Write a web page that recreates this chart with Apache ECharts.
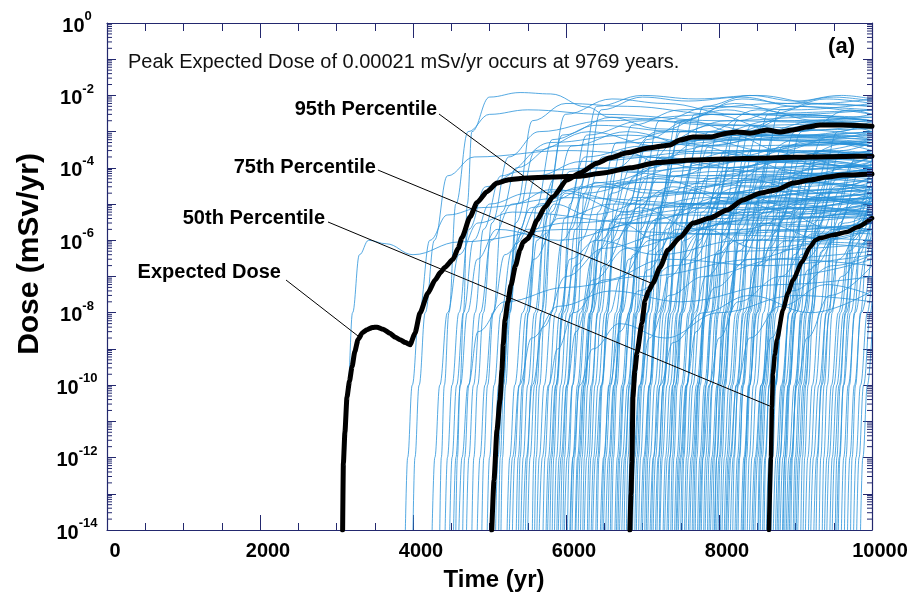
<!DOCTYPE html>
<html>
<head>
<meta charset="utf-8">
<script src="https://cdn.jsdelivr.net/npm/echarts@6/dist/echarts.min.js"></script>
<style>
html,body{margin:0;padding:0;background:#fff;}
#chart{width:915px;height:602px;}
</style>
</head>
<body>
<div id="chart"></div>
<script>
// Dose histories [time (yr), dose (mSv/yr)]
const expectedDose = [[3080,1e-14],[3090,7e-13],[3110,5e-12],[3137,4.7e-11],[3170,1.3e-10],[3203,3.2e-10],[3240,8.5e-10],[3281,1.8e-9],[3340,2.8e-9],[3399,3.4e-9],[3470,3.9e-9],[3530,4.0e-9],[3610,3.5e-9],[3699,2.7e-9],[3770,2.1e-9],[3830,1.8e-9],[3900,1.5e-9],[3961,1.3e-9],[4026,2.7e-9],[4091,9.8e-9],[4196,3.5e-8],[4288,8e-8],[4360,1.3e-7],[4418,1.8e-7],[4523,3.0e-7],[4590,6e-7],[4641,1.2e-6],[4745,4.4e-6],[4837,1.1e-5],[4967,2.2e-5],[5098,3.8e-5],[5250,4.7e-5],[5438,5.2e-5],[5830,5.6e-5],[6183,5.9e-5],[6484,7.2e-5],[6837,1.0e-4],[7190,1.4e-4],[7660,1.65e-4],[8105,1.75e-4],[8536,1.85e-4],[8967,1.95e-4],[9412,2.03e-4],[9769,2.1e-4],[10000,2.08e-4]];
const percentile95 = [[5030,1e-14],[5059,2.4e-13],[5098,5.8e-12],[5137,3.9e-11],[5163,2.6e-10],[5180,1.4e-9],[5203,6.3e-9],[5240,2.0e-8],[5281,5.8e-8],[5340,2.0e-7],[5398,5.4e-7],[5440,9e-7],[5500,1.1e-6],[5540,1.5e-6],[5621,3.6e-6],[5725,8.3e-6],[5830,1.6e-5],[6013,4.6e-5],[6183,7.2e-5],[6405,1.35e-4],[6575,1.9e-4],[6797,2.6e-4],[7059,3.5e-4],[7359,4.3e-4],[7490,5.9e-4],[7660,7.1e-4],[7882,7.1e-4],[8105,9.1e-4],[8235,9.8e-4],[8405,9.1e-4],[8627,1.11e-3],[8797,9.8e-4],[8967,1.11e-3],[9150,1.35e-3],[9320,1.52e-3],[9621,1.52e-3],[10000,1.4e-3]];
const percentile75 = [[6836,1e-14],[6850,1e-13],[6862,7e-13],[6875,4.7e-11],[6900,2.5e-10],[6928,7.8e-10],[6993,5.2e-9],[7033,2.2e-8],[7080,4e-8],[7137,6.6e-8],[7229,1.8e-7],[7333,5.4e-7],[7490,1.2e-6],[7660,3.0e-6],[7882,4.1e-6],[8105,6.9e-6],[8314,1.3e-5],[8536,2.0e-5],[8758,2.5e-5],[8967,3.8e-5],[9189,4.6e-5],[9412,5.6e-5],[9621,6.3e-5],[10000,6.8e-5]];
const percentile50 = [[8653,1e-14],[8679,1.0e-12],[8692,2.5e-11],[8705,2.1e-10],[8730,7e-10],[8758,1.8e-9],[8836,1.2e-8],[8902,3.5e-8],[8967,8.0e-8],[9085,2.5e-7],[9189,6.5e-7],[9260,1.0e-6],[9320,1.15e-6],[9490,1.4e-6],[9673,1.7e-6],[9804,2.3e-6],[10000,4.1e-6]];

// Individual realizations, grouped by release time
const realizationsEarly = [
  [[3090,1e-14],[3110,1e-12],[3150,1e-10],[3210,1e-8],[3300,4e-7],[3420,1e-6],[3650,8e-7],[4000,4e-7],[4600,9e-7],[6000,2e-6],[8000,1.5e-6],[10000,3e-6]],
  [[3900,1e-14],[3930,1e-12],[3990,1e-10],[4080,1e-8],[4220,1e-6],[4450,5e-6],[4900,8e-6],[6000,1.5e-5],[8000,1e-5],[10000,2e-5]],
  [[4000,1e-14],[4025,1e-12],[4080,1e-10],[4160,1e-8],[4280,1e-6],[4450,6e-5],[4800,2e-4],[6000,3e-4],[8000,1.5e-4],[10000,2e-4]],
  [[4250,1e-14],[4285,1e-12],[4350,1e-10],[4450,1e-8],[4600,4e-7],[4850,3e-6],[5300,6e-6],[7000,3e-6],[10000,5e-6]],
  [[4350,1e-14],[4370,1e-12],[4410,1e-10],[4470,1e-8],[4560,1e-5],[4720,1e-3],[5000,3e-3],[5500,4e-3],[6500,3e-3],[8000,2e-3],[10000,1.5e-3]],
  [[4420,1e-14],[4450,1e-12],[4510,1e-10],[4600,1e-8],[4730,2e-6],[4950,3e-5],[5400,8e-5],[6500,1e-4],[8500,2e-4],[10000,1e-4]],
  [[4480,1e-14],[4510,1e-12],[4570,1e-10],[4660,1e-8],[4790,1e-6],[5000,1e-5],[5500,2e-5],[7000,4e-5],[10000,6e-5]],
  [[4530,1e-14],[4560,1e-12],[4620,1e-10],[4710,1e-8],[4840,3e-7],[5100,2e-6],[5900,1e-6],[7000,3e-6],[10000,2e-6]],
  [[4560,1e-14],[4580,1e-12],[4615,1e-10],[4660,1e-8],[4710,1e-5],[4770,1e-3],[5000,9e-3],[5400,1.2e-2],[5800,1.1e-2],[6270,4.8e-3],[6575,2.5e-3],[7200,1.2e-3],[8500,6e-4],[10000,4e-4]],
  [[4600,1e-14],[4640,1e-12],[4720,1e-10],[4850,3e-9],[5200,2e-8],[6000,5e-8],[7000,1e-7],[8500,3e-7],[10000,5e-7]],
  [[4650,1e-14],[4675,1e-12],[4730,1e-10],[4810,1e-8],[4920,2e-6],[5150,6e-5],[5800,5e-4],[6800,8e-4],[8000,4e-4],[10000,5e-4]],
  [[4700,1e-14],[4730,1e-12],[4790,1e-10],[4880,1e-8],[5020,1e-6],[5300,1e-5],[5800,2.5e-5],[7000,1e-5],[10000,1.5e-5]],
  [[4770,1e-14],[4795,1e-12],[4845,1e-10],[4920,1e-8],[5030,3e-6],[5250,2e-4],[5650,1e-3],[6500,2e-3],[8000,3e-3],[10000,2.5e-3]],
  [[4840,1e-14],[4875,1e-12],[4940,1e-10],[5040,1e-8],[5200,4e-7],[5500,2e-6],[6000,3e-6],[8000,8e-6],[10000,6e-6]],
  [[4900,1e-14],[4925,1e-12],[4975,1e-10],[5050,1e-8],[5160,6e-6],[5350,1e-4],[5850,4e-4],[7000,5e-4],[9000,8e-4],[10000,7e-4]],
  [[4970,1e-14],[5000,1e-12],[5060,1e-10],[5150,1e-8],[5290,5e-7],[5550,8e-6],[6200,3e-5],[8000,2e-5],[10000,3e-5]]
];
const realizations5k = [
  [[5030,1e-14],[5060,1e-12],[5120,1e-10],[5210,1e-8],[5340,8e-7],[5650,1e-5],[6500,4e-5],[7500,1.5e-4],[8500,8e-5],[10000,1.2e-4]],
  [[5080,1e-14],[5110,1e-12],[5170,1e-10],[5260,1e-8],[5390,2e-6],[5620,6e-5],[6200,1.5e-4],[8000,3e-4],[10000,2e-4]],
  [[5120,1e-14],[5140,1e-12],[5185,1e-10],[5250,1e-8],[5340,3e-6],[5600,3e-4],[6300,1e-3],[7200,4e-4],[8200,8e-4],[10000,6e-4]],
  [[5150,1e-14],[5170,1e-12],[5210,1e-10],[5270,1e-8],[5360,1e-5],[5560,2e-3],[6000,6e-3],[6800,5e-3],[8000,3e-3],[10000,4e-3]],
  [[5230,1e-14],[5265,1e-12],[5330,1e-10],[5430,1e-8],[5580,3e-7],[5900,4e-6],[6600,1e-5],[8500,7e-6],[10000,1.2e-5]],
  [[5260,1e-14],[5300,1e-12],[5390,1e-10],[5550,2e-9],[5900,1.5e-8],[6600,4e-8],[7500,2e-8],[8800,6e-8],[10000,1e-7]],
  [[5300,1e-14],[5330,1e-12],[5390,1e-10],[5480,1e-8],[5610,2e-6],[5850,5e-5],[6500,8e-5],[8000,5e-5],[10000,9e-5]],
  [[5350,1e-14],[5375,1e-12],[5430,1e-10],[5510,1e-8],[5620,1e-6],[5850,1e-5],[6300,5e-6],[7400,2e-5],[10000,1e-5]],
  [[5380,1e-14],[5400,1e-12],[5445,1e-10],[5510,1e-8],[5610,8e-6],[5820,6e-4],[6400,1.5e-3],[7500,1e-3],[10000,1.2e-3]],
  [[5410,1e-14],[5440,1e-12],[5500,1e-10],[5590,1e-8],[5720,1.5e-6],[6000,2e-5],[6800,6e-6],[7800,1.5e-5],[10000,2.5e-5]],
  [[5440,1e-14],[5480,1e-12],[5560,1e-10],[5700,4e-9],[6000,1e-7],[6500,6e-7],[7300,1.5e-6],[10000,1e-6]],
  [[5470,1e-14],[5495,1e-12],[5545,1e-10],[5620,1e-8],[5730,5e-6],[5950,8e-4],[6600,2.5e-3],[8000,1.5e-3],[10000,8e-4]],
  [[5500,1e-14],[5530,1e-12],[5590,1e-10],[5680,1e-8],[5810,3e-6],[6050,8e-5],[6800,2e-4],[8500,1.5e-4],[10000,2.5e-4]],
  [[5560,1e-14],[5580,1e-12],[5620,1e-10],[5680,1e-8],[5770,2e-5],[5990,3e-3],[6600,8e-3],[7300,6e-3],[8200,3e-3],[10000,2e-3]],
  [[5590,1e-14],[5610,1e-12],[5655,1e-10],[5720,1e-8],[5810,6e-6],[6070,4e-4],[6800,1e-3],[7700,4e-4],[8800,7e-4],[10000,5e-4]],
  [[5620,1e-14],[5650,1e-12],[5715,1e-10],[5810,1e-8],[5950,1e-6],[6250,2e-5],[7000,4e-5],[9000,3e-5],[10000,5e-5]],
  [[5650,1e-14],[5690,1e-12],[5770,1e-10],[5890,1e-9],[6100,1e-8],[6500,8e-8],[7300,3e-7],[8600,2e-7],[10000,4e-7]],
  [[5700,1e-14],[5725,1e-12],[5780,1e-10],[5860,1e-8],[5980,4e-6],[6250,2e-4],[7000,4e-4],[8500,6e-4],[10000,5e-4]],
  [[5740,1e-14],[5770,1e-12],[5830,1e-10],[5920,1e-8],[6050,3e-7],[6400,1e-6],[7200,4e-7],[8300,1e-6],[10000,8e-7]],
  [[5760,1e-14],[5795,1e-12],[5865,1e-10],[5970,1e-8],[6120,2e-7],[6450,2e-6],[7200,5e-6],[10000,4e-6]],
  [[5790,1e-14],[5815,1e-12],[5870,1e-10],[5950,1e-8],[6060,2e-6],[6300,1e-4],[7000,8e-5],[8200,1.5e-4],[10000,1e-4]],
  [[5820,1e-14],[5840,1e-12],[5885,1e-10],[5950,1e-8],[6050,1e-5],[6270,8e-4],[7000,2e-3],[8500,1.5e-3],[10000,2e-3]],
  [[5850,1e-14],[5875,1e-12],[5930,1e-10],[6010,1e-8],[6120,2e-6],[6380,4e-5],[7100,2e-5],[8200,6e-5],[10000,4e-5]],
  [[5880,1e-14],[5910,1e-12],[5970,1e-10],[6060,1e-8],[6190,1e-6],[6470,3e-5],[7300,6e-5],[10000,8e-5]],
  [[5900,1e-14],[5935,1e-12],[6010,1e-10],[6130,3e-9],[6350,8e-8],[6800,6e-7],[7800,2e-6],[10000,1.5e-6]],
  [[5930,1e-14],[5955,1e-12],[6010,1e-10],[6090,1e-8],[6210,5e-6],[6480,2e-4],[7200,3e-4],[9000,2e-4],[10000,3e-4]],
  [[5960,1e-14],[5980,1e-12],[6025,1e-10],[6090,1e-8],[6180,3e-5],[6400,5e-3],[7000,1e-2],[7700,8e-3],[8500,1e-2],[9300,6e-3],[10000,8e-3]],
  [[5980,1e-14],[6015,1e-12],[6085,1e-10],[6190,1e-8],[6340,3e-7],[6700,5e-6],[7600,1e-5],[10000,1.5e-5]]
];
const realizations6k = [
  [[6020,1e-14],[6040,1e-12],[6085,1e-10],[6150,1e-8],[6240,2e-5],[6460,4e-3],[7000,9e-3],[7600,7e-3],[8300,9e-3],[9000,5e-3],[10000,3e-3]],
  [[6050,1e-14],[6090,1e-12],[6180,1e-10],[6350,1e-9],[6700,5e-9],[7300,2e-9],[8000,1e-8],[9000,3e-8],[10000,2e-8]],
  [[6060,1e-14],[6090,1e-12],[6150,1e-10],[6240,1e-8],[6370,1e-6],[6600,2e-5],[7100,1e-4],[7800,6e-4],[8600,3e-4],[9400,5e-4],[10000,3e-4]],
  [[6080,1e-14],[6110,1e-12],[6170,1e-10],[6260,1e-8],[6390,1e-6],[6680,4e-5],[7500,1e-4],[10000,1.2e-4]],
  [[6120,1e-14],[6150,1e-12],[6215,1e-10],[6310,1e-8],[6450,6e-7],[6750,6e-6],[7400,3e-5],[8300,1e-5],[9200,4e-5],[10000,2e-5]],
  [[6130,1e-14],[6165,1e-12],[6235,1e-10],[6340,1e-8],[6490,2e-7],[6850,3e-6],[7800,6e-6],[10000,5e-6]],
  [[6160,1e-14],[6185,1e-12],[6240,1e-10],[6320,1e-8],[6440,1e-6],[6700,3e-6],[7200,1e-6],[8000,4e-6],[10000,8e-6]],
  [[6190,1e-14],[6210,1e-12],[6255,1e-10],[6320,1e-8],[6420,6e-6],[6660,5e-4],[7400,1e-3],[9000,8e-4],[10000,1e-3]],
  [[6220,1e-14],[6240,1e-12],[6285,1e-10],[6350,1e-8],[6440,2e-6],[6650,1e-4],[7200,1e-3],[7900,3e-3],[8800,1e-3],[10000,1.5e-3]],
  [[6240,1e-14],[6270,1e-12],[6330,1e-10],[6420,1e-8],[6550,8e-7],[6870,1.5e-5],[7800,2e-5],[10000,3e-5]],
  [[6280,1e-14],[6300,1e-12],[6345,1e-10],[6410,1e-8],[6500,4e-6],[6730,3e-4],[7300,1.2e-4],[8300,3e-4],[10000,2e-4]],
  [[6300,1e-14],[6325,1e-12],[6380,1e-10],[6460,1e-8],[6580,3e-6],[6850,1e-4],[7600,2.5e-4],[9000,3e-4],[10000,2e-4]],
  [[6330,1e-14],[6360,1e-12],[6420,1e-10],[6510,1e-8],[6640,1e-6],[6950,8e-6],[7700,2e-6],[8500,8e-6],[10000,5e-6]],
  [[6350,1e-14],[6385,1e-12],[6460,1e-10],[6570,1e-8],[6720,1e-7],[7100,1e-6],[8200,3e-6],[10000,2e-6]],
  [[6390,1e-14],[6415,1e-12],[6465,1e-10],[6540,1e-8],[6650,4e-6],[6900,6e-5],[7500,6e-4],[8400,8e-4],[9300,2e-3],[10000,1e-3]],
  [[6410,1e-14],[6430,1e-12],[6475,1e-10],[6540,1e-8],[6630,1e-5],[6860,1.5e-3],[7500,4e-3],[8800,6e-3],[10000,5e-3]],
  [[6450,1e-14],[6490,1e-12],[6570,1e-10],[6700,3e-9],[6950,4e-8],[7400,2e-7],[8200,5e-7],[10000,8e-7]],
  [[6470,1e-14],[6500,1e-12],[6560,1e-10],[6650,1e-8],[6780,2e-6],[7050,5e-5],[8000,8e-5],[10000,6e-5]],
  [[6490,1e-14],[6520,1e-12],[6585,1e-10],[6680,1e-8],[6820,3e-7],[7200,4e-6],[8000,1.5e-5],[9000,6e-6],[10000,1e-5]],
  [[6520,1e-14],[6555,1e-12],[6625,1e-10],[6730,1e-8],[6880,4e-7],[7200,8e-6],[8300,1.2e-5],[10000,2e-5]],
  [[6550,1e-14],[6575,1e-12],[6630,1e-10],[6710,1e-8],[6820,3e-6],[7080,2e-4],[7700,1e-4],[8600,2e-4],[10000,1.5e-4]],
  [[6580,1e-14],[6600,1e-12],[6645,1e-10],[6710,1e-8],[6800,8e-6],[7060,4e-4],[7800,6e-4],[10000,8e-4]],
  [[6600,1e-14],[6620,1e-12],[6665,1e-10],[6730,1e-8],[6820,1e-5],[7050,6e-4],[7600,2e-3],[8200,1e-3],[9000,3e-3],[10000,2e-3]],
  [[6640,1e-14],[6670,1e-12],[6730,1e-10],[6820,1e-8],[6950,1e-6],[7250,2e-5],[8400,4e-5],[10000,3e-5]],
  [[6660,1e-14],[6690,1e-12],[6750,1e-10],[6840,1e-8],[6970,2e-6],[7250,2e-4],[8000,1e-4],[9000,1.5e-4],[10000,8e-5]],
  [[6680,1e-14],[6705,1e-12],[6760,1e-10],[6840,1e-8],[6950,5e-6],[7200,5e-5],[8000,2e-5],[9200,4e-5],[10000,3e-5]],
  [[6700,1e-14],[6735,1e-12],[6805,1e-10],[6910,1e-8],[7060,1.5e-7],[7450,2e-6],[8600,4e-6],[10000,6e-6]],
  [[6730,1e-14],[6765,1e-12],[6835,1e-10],[6940,1e-8],[7090,5e-7],[7450,5e-6],[8300,3e-5],[9400,1.5e-5],[10000,2e-5]],
  [[6760,1e-14],[6780,1e-12],[6825,1e-10],[6890,1e-8],[6980,1.5e-5],[7220,2e-3],[7900,5e-3],[9000,4e-3],[10000,6e-3]],
  [[6790,1e-14],[6810,1e-12],[6855,1e-10],[6920,1e-8],[7010,8e-6],[7270,5e-4],[7900,1.5e-3],[8700,7e-4],[10000,1e-3]],
  [[6810,1e-14],[6840,1e-12],[6900,1e-10],[6990,1e-8],[7120,2e-6],[7400,8e-5],[8300,1.5e-4],[10000,1e-4]],
  [[6840,1e-14],[6880,1e-12],[6960,1e-10],[7090,2e-9],[7350,3e-8],[7800,1e-7],[8800,3e-7],[10000,2e-7]],
  [[6870,1e-14],[6900,1e-12],[6965,1e-10],[7060,1e-8],[7200,5e-7],[7520,1e-5],[8500,1.5e-5],[10000,1e-5]],
  [[6900,1e-14],[6925,1e-12],[6980,1e-10],[7060,1e-8],[7170,3e-6],[7450,6e-5],[8200,2e-4],[9200,6e-5],[10000,1e-4]],
  [[6920,1e-14],[6945,1e-12],[6995,1e-10],[7070,1e-8],[7180,4e-6],[7430,3e-4],[8200,6e-4],[10000,4e-4]],
  [[6950,1e-14],[6975,1e-12],[7030,1e-10],[7110,1e-8],[7220,8e-6],[7450,2e-3],[8100,4e-3],[8800,2e-3],[10000,2.5e-3]],
  [[6980,1e-14],[7015,1e-12],[7090,1e-10],[7200,1e-8],[7350,1e-7],[7750,1.5e-6],[9000,2e-6],[10000,3e-6]]
];
const realizations7k = [
  [[7000,1e-14],[7030,1e-12],[7090,1e-10],[7180,1e-8],[7310,2e-6],[7600,1e-5],[8400,5e-6],[9300,1.5e-5],[10000,1e-5]],
  [[7030,1e-14],[7050,1e-12],[7095,1e-10],[7160,1e-8],[7250,1e-5],[7500,1e-3],[8100,2e-3],[9200,2.5e-3],[10000,2e-3]],
  [[7050,1e-14],[7070,1e-12],[7115,1e-10],[7180,1e-8],[7270,2e-5],[7520,2e-3],[8200,6e-3],[9000,3e-3],[10000,4e-3]],
  [[7070,1e-14],[7100,1e-12],[7160,1e-10],[7250,1e-8],[7380,1e-6],[7680,3e-5],[8600,5e-5],[10000,7e-5]],
  [[7100,1e-14],[7140,1e-12],[7230,1e-10],[7400,1.5e-9],[7800,1e-8],[8400,3e-8],[9200,1e-8],[10000,4e-8]],
  [[7120,1e-14],[7145,1e-12],[7200,1e-10],[7280,1e-8],[7400,3e-6],[7680,1.5e-4],[8500,3e-4],[10000,2.5e-4]],
  [[7140,1e-14],[7170,1e-12],[7230,1e-10],[7320,1e-8],[7450,1e-6],[7750,3e-5],[8600,1e-4],[9500,6e-5],[10000,8e-5]],
  [[7170,1e-14],[7205,1e-12],[7275,1e-10],[7380,1e-8],[7530,3e-7],[7880,5e-6],[9000,8e-6],[10000,6e-6]],
  [[7190,1e-14],[7215,1e-12],[7270,1e-10],[7350,1e-8],[7460,4e-6],[7720,4e-4],[8400,2e-4],[9300,6e-4],[10000,4e-4]],
  [[7220,1e-14],[7240,1e-12],[7285,1e-10],[7350,1e-8],[7440,2e-5],[7680,3e-3],[8300,8e-3],[8900,6e-3],[9500,9e-3],[10000,7e-3]],
  [[7230,1e-14],[7260,1e-12],[7320,1e-10],[7410,1e-8],[7540,1e-6],[7800,2e-6],[8500,6e-7],[10000,2e-6]],
  [[7270,1e-14],[7300,1e-12],[7360,1e-10],[7450,1e-8],[7580,2e-6],[7860,6e-5],[8800,1e-4],[10000,8e-5]],
  [[7290,1e-14],[7325,1e-12],[7395,1e-10],[7500,1e-8],[7650,3e-7],[8000,3e-6],[8900,1e-5],[10000,5e-6]],
  [[7320,1e-14],[7355,1e-12],[7425,1e-10],[7530,1e-8],[7680,6e-7],[8020,1.2e-5],[9200,2e-5],[10000,2.5e-5]],
  [[7340,1e-14],[7360,1e-12],[7400,1e-10],[7460,1e-8],[7550,3e-5],[7800,5e-3],[8400,1e-2],[9000,7e-3],[9600,1e-2],[10000,8e-3]],
  [[7370,1e-14],[7390,1e-12],[7435,1e-10],[7500,1e-8],[7600,6e-6],[7870,4e-4],[8700,8e-4],[10000,6e-4]],
  [[7390,1e-14],[7410,1e-12],[7455,1e-10],[7520,1e-8],[7610,1e-5],[7860,1e-3],[8500,4e-3],[9300,2e-3],[10000,3e-3]],
  [[7420,1e-14],[7450,1e-12],[7510,1e-10],[7600,1e-8],[7730,1e-6],[8040,2e-5],[9000,4e-5],[10000,3e-5]],
  [[7440,1e-14],[7470,1e-12],[7530,1e-10],[7620,1e-8],[7750,2e-6],[8050,8e-5],[8900,2e-4],[10000,1e-4]],
  [[7450,1e-14],[7490,1e-12],[7570,1e-10],[7700,3e-9],[7950,5e-8],[8400,3e-7],[9300,8e-7],[10000,6e-7]],
  [[7470,1e-14],[7505,1e-12],[7575,1e-10],[7680,1e-8],[7830,1e-7],[8230,1e-6],[10000,2e-6]],
  [[7500,1e-14],[7525,1e-12],[7580,1e-10],[7660,1e-8],[7770,6e-6],[8030,3e-5],[8800,1.5e-4],[10000,2e-4]],
  [[7520,1e-14],[7540,1e-12],[7585,1e-10],[7650,1e-8],[7740,1e-5],[8000,1e-3],[8700,2e-3],[10000,1.5e-3]],
  [[7550,1e-14],[7575,1e-12],[7630,1e-10],[7710,1e-8],[7820,5e-6],[8080,3e-4],[8700,1.5e-4],[9500,3e-4],[10000,2.5e-4]],
  [[7570,1e-14],[7600,1e-12],[7660,1e-10],[7750,1e-8],[7880,3e-6],[8150,1e-4],[9100,2e-4],[10000,1.5e-4]],
  [[7600,1e-14],[7635,1e-12],[7705,1e-10],[7810,1e-8],[7960,4e-7],[8320,2e-6],[9200,8e-6],[10000,6e-6]],
  [[7620,1e-14],[7655,1e-12],[7725,1e-10],[7830,1e-8],[7980,5e-7],[8300,1e-5],[10000,1.5e-5]],
  [[7650,1e-14],[7675,1e-12],[7730,1e-10],[7810,1e-8],[7920,2e-6],[8200,2e-5],[9000,8e-6],[10000,1.5e-5]],
  [[7670,1e-14],[7690,1e-12],[7735,1e-10],[7800,1e-8],[7900,4e-6],[8180,2e-4],[9000,4e-4],[10000,5e-4]],
  [[7690,1e-14],[7710,1e-12],[7755,1e-10],[7820,1e-8],[7910,8e-6],[8170,8e-4],[8800,3e-4],[9600,8e-4],[10000,6e-4]],
  [[7720,1e-14],[7750,1e-12],[7810,1e-10],[7900,1e-8],[8030,1.5e-6],[8330,4e-5],[9300,6e-5],[10000,5e-5]],
  [[7740,1e-14],[7770,1e-12],[7830,1e-10],[7920,1e-8],[8050,1e-6],[8350,5e-5],[9200,2e-5],[10000,4e-5]],
  [[7750,1e-14],[7790,1e-12],[7870,1e-10],[8000,2e-9],[8250,2e-8],[8800,1e-7],[10000,3e-7]],
  [[7770,1e-14],[7790,1e-12],[7835,1e-10],[7900,1e-8],[7990,1.5e-5],[8240,2e-3],[8900,5e-3],[10000,4e-3]],
  [[7800,1e-14],[7825,1e-12],[7880,1e-10],[7960,1e-8],[8070,3e-6],[8330,1e-4],[9000,6e-4],[10000,4e-4]],
  [[7820,1e-14],[7850,1e-12],[7910,1e-10],[8000,1e-8],[8130,8e-7],[8450,1.5e-5],[9500,2.5e-5],[10000,2e-5]],
  [[7850,1e-14],[7870,1e-12],[7915,1e-10],[7980,1e-8],[8070,1e-5],[8320,1e-3],[9000,3e-3],[10000,2e-3]],
  [[7870,1e-14],[7905,1e-12],[7975,1e-10],[8080,1e-8],[8230,2e-7],[8620,3e-6],[10000,5e-6]],
  [[7890,1e-14],[7925,1e-12],[7995,1e-10],[8100,1e-8],[8250,5e-7],[8600,6e-6],[9500,2e-5],[10000,1.5e-5]],
  [[7920,1e-14],[7940,1e-12],[7985,1e-10],[8050,1e-8],[8150,5e-6],[8420,3e-4],[9300,5e-4],[10000,4e-4]],
  [[7940,1e-14],[7970,1e-12],[8035,1e-10],[8130,1e-8],[8260,8e-7],[8560,3e-6],[9400,1e-6],[10000,2e-6]],
  [[7950,1e-14],[7970,1e-12],[8015,1e-10],[8080,1e-8],[8170,1.5e-5],[8420,1.5e-3],[9100,8e-4],[10000,1.5e-3]],
  [[7970,1e-14],[8000,1e-12],[8060,1e-10],[8150,1e-8],[8280,2e-6],[8560,6e-5],[9500,1e-4],[10000,1.2e-4]],
  [[7990,1e-14],[8015,1e-12],[8070,1e-10],[8150,1e-8],[8260,3e-6],[8540,2e-4],[9300,3e-4],[10000,2e-4]]
];
const realizations8k = [
  [[8020,1e-14],[8040,1e-12],[8085,1e-10],[8150,1e-8],[8240,8e-6],[8500,8e-4],[9200,1.5e-3],[10000,1.2e-3]],
  [[8040,1e-14],[8070,1e-12],[8130,1e-10],[8220,1e-8],[8350,1.5e-6],[8640,4e-5],[9500,1.5e-4],[10000,1e-4]],
  [[8070,1e-14],[8100,1e-12],[8160,1e-10],[8250,1e-8],[8380,1e-6],[8680,3e-5],[9600,5e-5],[10000,4e-5]],
  [[8090,1e-14],[8120,1e-12],[8180,1e-10],[8270,1e-8],[8400,4e-6],[8680,3e-4],[9400,1e-4],[10000,2e-4]],
  [[8100,1e-14],[8140,1e-12],[8230,1e-10],[8400,2e-9],[8800,1.5e-8],[9400,6e-8],[10000,3e-8]],
  [[8120,1e-14],[8155,1e-12],[8225,1e-10],[8330,1e-8],[8480,2e-7],[8870,4e-6],[10000,7e-6]],
  [[8150,1e-14],[8185,1e-12],[8255,1e-10],[8360,1e-8],[8510,2e-7],[8900,1e-6],[10000,3e-6]],
  [[8180,1e-14],[8200,1e-12],[8245,1e-10],[8310,1e-8],[8400,2e-5],[8640,3e-3],[9300,6e-3],[10000,5e-3]],
  [[8210,1e-14],[8240,1e-12],[8300,1e-10],[8390,1e-8],[8520,1e-6],[8800,6e-6],[9500,2e-6],[10000,5e-6]],
  [[8230,1e-14],[8260,1e-12],[8320,1e-10],[8410,1e-8],[8540,3e-6],[8820,1e-4],[9700,2e-4],[10000,1.8e-4]],
  [[8250,1e-14],[8270,1e-12],[8315,1e-10],[8380,1e-8],[8470,1e-5],[8720,8e-4],[9400,2e-3],[10000,1.5e-3]],
  [[8290,1e-14],[8325,1e-12],[8395,1e-10],[8500,1e-8],[8650,6e-7],[8950,1e-5],[10000,1.5e-5]],
  [[8310,1e-14],[8340,1e-12],[8400,1e-10],[8490,1e-8],[8620,1e-6],[8900,3e-5],[9800,1e-5],[10000,1.5e-5]],
  [[8320,1e-14],[8340,1e-12],[8385,1e-10],[8450,1e-8],[8540,3e-5],[8800,4e-3],[9400,8e-3],[10000,6e-3]],
  [[8340,1e-14],[8360,1e-12],[8405,1e-10],[8470,1e-8],[8570,6e-6],[8840,4e-4],[10000,6e-4]],
  [[8370,1e-14],[8395,1e-12],[8450,1e-10],[8530,1e-8],[8640,5e-6],[8900,1.5e-4],[9700,5e-4],[10000,4e-4]],
  [[8400,1e-14],[8430,1e-12],[8490,1e-10],[8580,1e-8],[8710,1.5e-6],[9000,5e-5],[10000,6e-5]],
  [[8430,1e-14],[8470,1e-12],[8550,1e-10],[8680,2e-9],[8950,4e-8],[9500,2e-7],[10000,4e-7]],
  [[8450,1e-14],[8485,1e-12],[8555,1e-10],[8660,1e-8],[8810,1e-7],[9220,1.5e-6],[10000,2e-6]],
  [[8470,1e-14],[8505,1e-12],[8575,1e-10],[8680,1e-8],[8830,5e-7],[9200,8e-6],[10000,2e-5]],
  [[8510,1e-14],[8530,1e-12],[8575,1e-10],[8640,1e-8],[8730,1e-5],[8990,1e-3],[9600,2e-3],[10000,1.8e-3]],
  [[8520,1e-14],[8545,1e-12],[8600,1e-10],[8680,1e-8],[8790,3e-6],[9050,6e-5],[10000,2e-4]],
  [[8540,1e-14],[8565,1e-12],[8620,1e-10],[8700,1e-8],[8810,4e-6],[9080,2e-4],[9700,1e-4],[10000,1.5e-4]],
  [[8570,1e-14],[8600,1e-12],[8660,1e-10],[8750,1e-8],[8880,2e-6],[9150,6e-5],[10000,1e-4]],
  [[8590,1e-14],[8610,1e-12],[8655,1e-10],[8720,1e-8],[8810,1e-5],[9080,1e-3],[9700,4e-3],[10000,3e-3]],
  [[8620,1e-14],[8655,1e-12],[8725,1e-10],[8830,1e-8],[8980,4e-7],[9280,6e-6],[10000,1e-5]],
  [[8640,1e-14],[8670,1e-12],[8730,1e-10],[8820,1e-8],[8950,1e-6],[9250,4e-5],[10000,8e-5]],
  [[8650,1e-14],[8680,1e-12],[8740,1e-10],[8830,1e-8],[8960,3e-6],[9250,1.5e-5],[10000,1e-5]],
  [[8680,1e-14],[8700,1e-12],[8745,1e-10],[8810,1e-8],[8900,4e-6],[9180,2e-4],[10000,3e-4]],
  [[8710,1e-14],[8745,1e-12],[8815,1e-10],[8920,1e-8],[9070,4e-7],[9450,5e-6],[10000,1e-5]],
  [[8740,1e-14],[8770,1e-12],[8830,1e-10],[8920,1e-8],[9050,1e-6],[9350,2e-5],[10000,3e-5]],
  [[8760,1e-14],[8795,1e-12],[8865,1e-10],[8970,1e-8],[9120,3e-7],[9500,2e-6],[10000,4e-6]],
  [[8780,1e-14],[8800,1e-12],[8845,1e-10],[8910,1e-8],[9000,6e-6],[9280,3e-4],[10000,6e-4]],
  [[8800,1e-14],[8835,1e-12],[8905,1e-10],[9010,1e-8],[9160,1.5e-7],[9560,2e-6],[10000,3e-6]],
  [[8830,1e-14],[8860,1e-12],[8920,1e-10],[9010,1e-8],[9140,2e-6],[9430,5e-5],[10000,1e-4]],
  [[8840,1e-14],[8860,1e-12],[8905,1e-10],[8970,1e-8],[9060,5e-6],[9320,3e-4],[10000,2e-4]],
  [[8860,1e-14],[8880,1e-12],[8925,1e-10],[8990,1e-8],[9080,1e-5],[9340,6e-4],[10000,1e-3]],
  [[8880,1e-14],[8915,1e-12],[8985,1e-10],[9090,1e-8],[9240,2e-7],[9650,3e-6],[10000,6e-6]],
  [[8900,1e-14],[8940,1e-12],[9020,1e-10],[9150,2e-9],[9450,3e-8],[10000,2e-7]],
  [[8920,1e-14],[8950,1e-12],[9010,1e-10],[9100,1e-8],[9230,1e-6],[9520,3e-5],[10000,5e-5]],
  [[8940,1e-14],[8960,1e-12],[9005,1e-10],[9070,1e-8],[9160,4e-6],[9440,2e-4],[10000,3e-4]],
  [[8970,1e-14],[8995,1e-12],[9050,1e-10],[9130,1e-8],[9240,3e-6],[9530,1e-4],[10000,1.5e-4]],
  [[8990,1e-14],[9015,1e-12],[9070,1e-10],[9150,1e-8],[9260,2e-6],[9550,5e-5],[10000,8e-5]]
];
const realizations9k = [
  [[9010,1e-14],[9040,1e-12],[9100,1e-10],[9190,1e-8],[9320,1.5e-6],[9620,3e-5],[10000,6e-5]],
  [[9030,1e-14],[9060,1e-12],[9120,1e-10],[9210,1e-8],[9340,5e-7],[9660,8e-6],[10000,1.2e-5]],
  [[9070,1e-14],[9090,1e-12],[9135,1e-10],[9200,1e-8],[9290,1e-5],[9550,1e-3],[10000,2e-3]],
  [[9100,1e-14],[9120,1e-12],[9165,1e-10],[9230,1e-8],[9320,5e-6],[9600,3e-4],[10000,5e-4]],
  [[9130,1e-14],[9160,1e-12],[9220,1e-10],[9310,1e-8],[9440,8e-7],[9760,1e-5],[10000,2e-5]],
  [[9170,1e-14],[9200,1e-12],[9260,1e-10],[9350,1e-8],[9480,1e-6],[9780,2e-5],[10000,3e-5]],
  [[9200,1e-14],[9235,1e-12],[9305,1e-10],[9410,1e-8],[9560,3e-7],[9900,4e-6],[10000,5e-6]],
  [[9240,1e-14],[9275,1e-12],[9345,1e-10],[9450,1e-8],[9600,1e-7],[9950,1e-6],[10000,1.2e-6]],
  [[9270,1e-14],[9290,1e-12],[9335,1e-10],[9400,1e-8],[9490,5e-6],[9760,1.5e-4],[10000,2e-4]],
  [[9310,1e-14],[9330,1e-12],[9375,1e-10],[9440,1e-8],[9530,6e-6],[9800,2e-4],[10000,3e-4]],
  [[9350,1e-14],[9370,1e-12],[9415,1e-10],[9480,1e-8],[9570,3e-6],[9850,8e-5],[10000,1e-4]],
  [[9380,1e-14],[9410,1e-12],[9470,1e-10],[9560,1e-8],[9690,5e-7],[10000,6e-6]],
  [[9410,1e-14],[9440,1e-12],[9500,1e-10],[9590,1e-8],[9720,1e-6],[10000,2e-5]],
  [[9450,1e-14],[9480,1e-12],[9540,1e-10],[9630,1e-8],[9760,1e-6],[10000,1.5e-5]],
  [[9480,1e-14],[9510,1e-12],[9570,1e-10],[9660,1e-8],[9790,3e-7],[10000,4e-6]],
  [[9520,1e-14],[9540,1e-12],[9585,1e-10],[9650,1e-8],[9740,2e-6],[10000,5e-5]],
  [[9540,1e-14],[9570,1e-12],[9630,1e-10],[9720,1e-8],[9850,6e-7],[10000,5e-6]],
  [[9560,1e-14],[9580,1e-12],[9625,1e-10],[9690,1e-8],[9780,4e-6],[10000,2e-4]],
  [[9600,1e-14],[9630,1e-12],[9690,1e-10],[9780,1e-8],[9910,3e-7],[10000,2e-6]],
  [[9640,1e-14],[9660,1e-12],[9705,1e-10],[9770,1e-8],[9860,3e-6],[10000,3e-5]],
  [[9680,1e-14],[9710,1e-12],[9770,1e-10],[9860,1e-8],[10000,6e-7]],
  [[9720,1e-14],[9740,1e-12],[9785,1e-10],[9850,1e-8],[9940,1e-6],[10000,5e-6]],
  [[9760,1e-14],[9790,1e-12],[9850,1e-10],[9940,1e-8],[10000,1e-7]],
  [[9800,1e-14],[9830,1e-12],[9890,1e-10],[9980,1e-8],[10000,2e-8]],
  [[9850,1e-14],[9880,1e-12],[9940,1e-10],[10000,3e-9]]
];

// Curve names, label anchors and leader lines (time, dose)
const curveNames = ['95th Percentile', '75th Percentile', '50th Percentile', 'Expected Dose'];
const labelAnchors = [[4314,4.2e-3],[3516,1.05e-4],[2850,4.1e-6],[2274,1.33e-7]];
const leaderStarts = [[4340,3.07e-3],[3542,8.7e-5],[2889,3.2e-6],[2340,8.0e-8]];
const leaderEnds = [[5817,1.57e-5],[7111,6.6e-8],[8692,2.5e-11],[3290,2.2e-9]];

const peakNote = 'Peak Expected Dose of 0.00021 mSv/yr occurs at 9769 years.';
const panelTag = '(a)';
const xTitle = 'Time (yr)';
const yTitle = 'Dose (mSv/yr)';
const minorMultipliers = [2,3,4,5,6,7,8,9];

const FONT = '"Liberation Sans", Arial, Helvetica, sans-serif';
const AXIS_COLOR = '#23286e';
const BLUE = '#2a93da';

const chart = echarts.init(document.getElementById('chart'), null, {renderer: 'canvas'});

const series = [];
[realizationsEarly, realizations5k, realizations6k, realizations7k, realizations8k, realizations9k].forEach(function (group) {
  group.forEach(function (curve) {
    series.push({
      type: 'line', data: curve, showSymbol: false, symbol: 'none',
      smooth: 0.4, smoothMonotone: 'x', silent: true, z: 2,
      lineStyle: {color: BLUE, width: 0.8}
    });
  });
});

// minor log ticks on both vertical frame edges
const minorTickValues = [];
for (let e = -14; e < 0; e++) {
  minorMultipliers.forEach(function (m) { minorTickValues.push([0, m * Math.pow(10, e)]); });
}
series.push({
  type: 'custom', data: minorTickValues, silent: true, z: 6,
  renderItem: function (params, api) {
    const v = api.value(1);
    const l = api.coord([0, v]);
    const r = api.coord([10000, v]);
    const st = {stroke: AXIS_COLOR, lineWidth: 1};
    return {type: 'group', children: [
      {type: 'line', shape: {x1: l[0], y1: l[1], x2: l[0] + 5, y2: l[1]}, style: st},
      {type: 'line', shape: {x1: r[0] - 5, y1: r[1], x2: r[0], y2: r[1]}, style: st}
    ]};
  }
});

// leader lines
curveNames.forEach(function (name, i) {
  series.push({
    type: 'line', data: [leaderStarts[i], leaderEnds[i]], symbol: 'none', silent: true, z: 4,
    lineStyle: {color: '#000', width: 1}
  });
});

// summary curves
[[percentile50, 4.5], [percentile75, 5], [percentile95, 5], [expectedDose, 5]].forEach(function (c) {
  series.push({
    type: 'line', data: c[0], symbol: 'none', smooth: 0.2, smoothMonotone: 'x', silent: true, z: 5,
    lineStyle: {color: '#000', width: c[1], cap: 'round', join: 'round'}
  });
});

// curve labels
series.push({
  type: 'scatter', symbolSize: 0, silent: true, z: 7,
  itemStyle: {opacity: 1},
  data: curveNames.map(function (n, i) { return {name: n, value: labelAnchors[i]}; }),
  label: {show: true, position: 'left', distance: 0, formatter: '{b}', opacity: 1,
    color: '#000', fontFamily: FONT, fontWeight: 'bold', fontSize: 20}
});

const tickLabelRich = {
  b: {fontFamily: FONT, fontWeight: 'bold', fontSize: 20, color: '#000', lineHeight: 26, verticalAlign: 'bottom'},
  s: {fontFamily: FONT, fontWeight: 'bold', fontSize: 13, color: '#000', verticalAlign: 'top', lineHeight: 14}
};

function logAxis(extra) {
  return Object.assign({
    type: 'log', logBase: 10, min: 1e-14, max: 1, interval: 1,
    axisLine: {show: true, onZero: false, lineStyle: {color: AXIS_COLOR, width: 1.2}},
    axisTick: {show: true, inside: true, length: 9, interval: 0, lineStyle: {color: AXIS_COLOR}},
    splitLine: {show: false}
  }, extra);
}

const option = {
  animation: false,
  backgroundColor: '#fff',
  grid: {left: 107, right: 43, top: 23, bottom: 72, containLabel: false},
  xAxis: [{
    type: 'value', min: 0, max: 10000, interval: 2000,
    axisLine: {show: true, onZero: false, lineStyle: {color: AXIS_COLOR, width: 1.2}},
    axisTick: {show: true, inside: true, length: 15, lineStyle: {color: AXIS_COLOR}},
    minorTick: {show: true, splitNumber: 4, length: 7, lineStyle: {color: AXIS_COLOR}},
    splitLine: {show: false},
    axisLabel: {margin: 11, fontFamily: FONT, fontWeight: 'bold', fontSize: 20, color: '#000',
      padding: [0, 0, 0, 16], formatter: function (v) { return String(v); }}
  }, {
    type: 'value', min: 0, max: 10000, interval: 2000, position: 'top',
    axisLine: {show: true, onZero: false, lineStyle: {color: AXIS_COLOR, width: 1.2}},
    axisTick: {show: true, inside: true, length: 15, lineStyle: {color: AXIS_COLOR}},
    minorTick: {show: true, splitNumber: 4, length: 8, lineStyle: {color: AXIS_COLOR}},
    splitLine: {show: false}, axisLabel: {show: false}
  }],
  yAxis: [logAxis({
    axisLabel: {
      interval: 0, margin: 30, align: 'center', showMinLabel: true, showMaxLabel: true, hideOverlap: false,
      formatter: function (v) {
        const e = Math.round(Math.log10(v));
        if (e % 2 !== 0) return '';
        return '{b|10}{s|' + e + '}';
      },
      rich: tickLabelRich
    }
  }), logAxis({position: 'right', axisLabel: {show: false}})],
  graphic: [
    {type: 'text', left: 128, top: 52, silent: true,
      style: {text: peakNote, fill: '#111', font: '20px ' + FONT}},
    {type: 'text', right: 60, top: 36, silent: true,
      style: {text: panelTag, fill: '#000', font: 'bold 22px ' + FONT}},
    {type: 'text', x: 494, y: 580, silent: true,
      style: {text: xTitle, fill: '#000', font: 'bold 24px ' + FONT, align: 'center', verticalAlign: 'middle'}},
    {type: 'text', x: 30, y: 254, rotation: Math.PI / 2, silent: true,
      style: {text: yTitle, fill: '#000', font: 'bold 30px ' + FONT, align: 'center', verticalAlign: 'middle'}}
  ],
  series: series
};
chart.setOption(option);
</script>
</body>
</html>
